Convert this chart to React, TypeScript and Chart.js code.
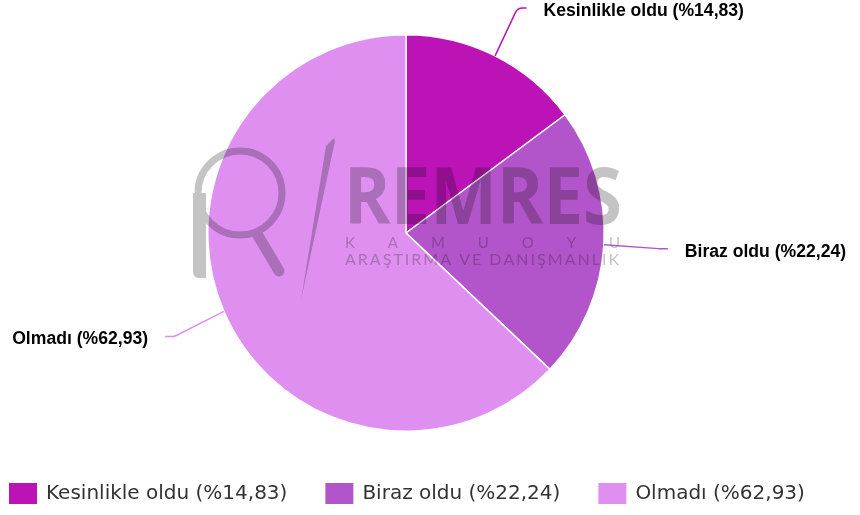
import React, { useEffect, useRef } from "react";
import { Chart, registerables } from "chart.js";

Chart.register(...registerables);

const categories = ["Kesinlikle oldu", "Biraz oldu", "Olmadı"];
const values = [14.83, 22.24, 62.93];
const colors = ["#bc13b7", "#b355ca", "#df8ff0"];

const labelText = (i: number) =>
  `${categories[i]} (%${values[i].toFixed(2).replace(".", ",")})`;

function makeWatermark(w: number, h: number) {
  const c = document.createElement("canvas");
  c.width = w;
  c.height = h;
  const ctx = c.getContext("2d")!;
  const g = "#c4c4c4";
  ctx.strokeStyle = g;
  ctx.fillStyle = g;
  // magnifier ring
  ctx.lineWidth = 7;
  ctx.beginPath();
  ctx.arc(240, 193, 42, 0, Math.PI * 2);
  ctx.stroke();
  // stem
  ctx.beginPath();
  ctx.moveTo(193, 193);
  ctx.lineTo(206, 193);
  ctx.lineTo(206, 278);
  ctx.lineTo(199, 278);
  ctx.quadraticCurveTo(193, 278, 193, 271);
  ctx.closePath();
  ctx.fill();
  // handle
  ctx.lineWidth = 11;
  ctx.lineCap = "round";
  ctx.beginPath();
  ctx.moveTo(257, 234);
  ctx.lineTo(279, 271);
  ctx.stroke();
  // slash
  ctx.beginPath();
  ctx.moveTo(326, 146);
  ctx.lineTo(334, 138);
  ctx.lineTo(335, 141);
  ctx.lineTo(301, 300);
  ctx.closePath();
  ctx.fill();
  // REMRES
  ctx.font = "bold 78px 'Open Sans'";
  ctx.textBaseline = "alphabetic";
  ctx.textAlign = "left";
  ctx.fillText("REMRES", 344, 224, 278);
  const spread = (text: string, font: string, x0: number, x1: number, y: number) => {
    ctx.font = font;
    const chars = Array.from(text);
    const ws = chars.map((ch) => ctx.measureText(ch).width);
    const total = ws.reduce((a, b) => a + b, 0);
    const gap = (x1 - x0 - total) / (chars.length - 1);
    let x = x0;
    chars.forEach((ch, k) => {
      ctx.fillText(ch, x, y);
      x += ws[k] + gap;
    });
  };
  spread("KAMUOYU", "15px Lato", 345, 620, 248);
  spread("ARAŞTIRMA VE DANIŞMANLIK", "16px Lato", 345, 619, 265);
  return c;
}

const watermarkPlugin = {
  id: "watermark",
  afterDatasetsDraw(chart: any) {
    const ctx = chart.ctx as CanvasRenderingContext2D;
    if (!chart.$wm) chart.$wm = makeWatermark(chart.width, chart.height);
    ctx.save();
    ctx.globalCompositeOperation = "multiply";
    ctx.drawImage(chart.$wm, 0, 0);
    ctx.restore();
  },
};

const labelsPlugin = {
  id: "pieLabels",
  afterDraw(chart: any) {
    const ctx = chart.ctx as CanvasRenderingContext2D;
    const meta = chart.getDatasetMeta(0);
    ctx.save();
    meta.data.forEach((arc: any, i: number) => {
      const { x, y, startAngle, endAngle, outerRadius } = arc.getProps(
        ["x", "y", "startAngle", "endAngle", "outerRadius"],
        true
      );
      const mid = (startAngle + endAngle) / 2;
      const px = x + Math.cos(mid) * outerRadius;
      const py = y + Math.sin(mid) * outerRadius;
      const R = outerRadius + 64;
      const side = Math.cos(mid) >= 0 ? 1 : -1;
      let ly = y + Math.sin(mid) * R;
      let lx = x + Math.cos(mid) * R;
      const minY = 8;
      if (ly < minY) {
        ly = minY;
        const Rc = outerRadius + 57;
        lx = x + side * Math.sqrt(Math.max(Rc * Rc - (ly - y) * (ly - y), 0));
      }
      ctx.strokeStyle = colors[i];
      ctx.lineWidth = 1.5;
      ctx.beginPath();
      ctx.moveTo(px, py);
      ctx.arcTo(lx - side * 9, ly, lx, ly, 8);
      ctx.lineTo(lx, ly);
      ctx.stroke();
      ctx.fillStyle = "#000000";
      ctx.font = "bold 17.6px 'Liberation Sans', Arial, sans-serif";
      ctx.textBaseline = "middle";
      ctx.textAlign = side > 0 ? "left" : "right";
      ctx.fillText(labelText(i), lx + side * 17, ly + 3);
    });
    // legend
    ctx.font = "20px 'DejaVu Sans'";
    ctx.textAlign = "left";
    ctx.textBaseline = "middle";
    let lx = 9;
    const boxTop = 483;
    categories.forEach((_, i) => {
      ctx.fillStyle = colors[i];
      ctx.fillRect(lx, boxTop, 28, 21);
      ctx.fillStyle = "#333333";
      const t = labelText(i);
      ctx.fillText(t, lx + 37, boxTop + 11);
      lx += 37 + ctx.measureText(t).width + 38;
    });
    ctx.restore();
  },
};

export default function App() {
  const ref = useRef<HTMLCanvasElement>(null);
  useEffect(() => {
    if (!ref.current) return;
    const chart = new Chart(ref.current, {
      type: "pie",
      data: {
        labels: categories,
        datasets: [
          {
            data: values,
            backgroundColor: colors,
            borderColor: "#ffffff",
            borderWidth: 1.5,
          },
        ],
      },
      options: {
        responsive: false,
        animation: false,
        layout: { padding: { top: 34, bottom: 83, left: 196, right: 244 } },
        plugins: {
          legend: { display: false },
          tooltip: { enabled: false },
        },
      },
      plugins: [watermarkPlugin, labelsPlugin],
    });
    return () => chart.destroy();
  }, []);
  return (
    <div style={{ position: "fixed", left: 0, top: 0, width: 860, height: 515, background: "#fff" }}>
      <canvas ref={ref} width={860} height={515} />
    </div>
  );
}
